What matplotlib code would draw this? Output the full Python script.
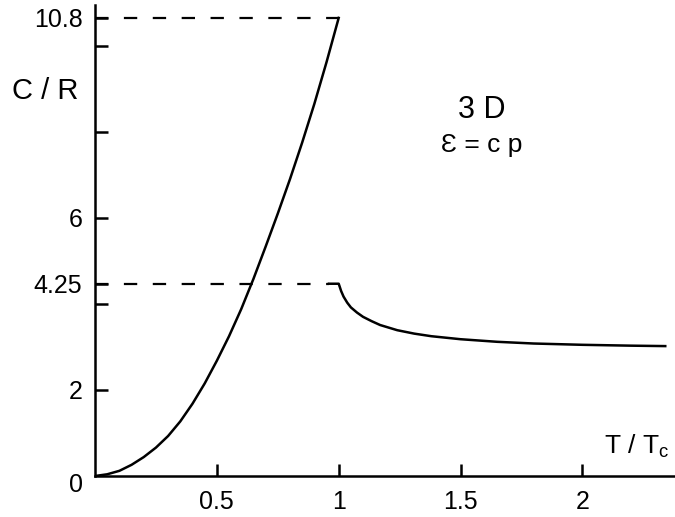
import numpy as np
import matplotlib
matplotlib.use("Agg")
import matplotlib.pyplot as plt

plt.rcParams['font.family'] = ['Liberation Sans', 'DejaVu Sans']
plt.rcParams['mathtext.fontset'] = 'custom'
plt.rcParams['mathtext.rm'] = 'Liberation Sans'

# C/R below Tc
t_below = [0, 0.05, 0.1, 0.15, 0.2, 0.25, 0.3, 0.35, 0.4, 0.45, 0.5,
           0.55, 0.6, 0.65, 0.7, 0.75, 0.8, 0.85, 0.9, 0.95, 1.0]
c_below = [0, 0.04, 0.12, 0.26, 0.44, 0.66, 0.93, 1.27, 1.68, 2.15, 2.68,
           3.25, 3.88, 4.58, 5.33, 6.10, 6.90, 7.75, 8.65, 9.62, 10.65]

# C/R above Tc
t_above = [0.96, 1.0, 1.003, 1.01, 1.02, 1.035, 1.05, 1.075, 1.10, 1.135, 1.17,
           1.24, 1.31, 1.38, 1.5, 1.65, 1.8, 2.0, 2.2, 2.34]
c_above = [4.47, 4.47, 4.42, 4.30, 4.17, 4.03, 3.92, 3.80, 3.70, 3.60, 3.51,
           3.39, 3.31, 3.25, 3.18, 3.12, 3.08, 3.05, 3.03, 3.02]

c_peak = 10.65   # drawn level of the "10.8" line
c_jump = 4.47    # drawn level of the "4.25" line

xticks = [0.5, 1, 1.5, 2]
xtick_labels = ['0.5', '1', '1.5', '2']
yticks_major = [2, c_jump, 6, c_peak]
ytick_labels = ['2', '4.25', '6', '10.8']
yticks_minor = [4, 8, 10]

fig = plt.figure(figsize=(6.75, 5.17), dpi=100)
ax = fig.add_axes([95/675, 41/517, 580/675, 471/517])

ax.plot(t_below, c_below, color='black', lw=1.8, solid_joinstyle='round')
ax.plot(t_above, c_above, color='black', lw=1.8, solid_joinstyle='round')

# dashed guide lines
ax.plot([0, 1], [c_peak, c_peak], color='black', lw=1.6, dashes=(6, 7))
ax.plot([0, 0.96], [c_jump, c_jump], color='black', lw=1.6, dashes=(6, 7))

ax.set_xlim(0, 2.38)
ax.set_ylim(0, 10.95)

for s in ['top', 'right']:
    ax.spines[s].set_visible(False)
for s in ['left', 'bottom']:
    ax.spines[s].set_linewidth(1.8)

ax.set_xticks(xticks)
ax.set_xticklabels(xtick_labels)
ax.set_yticks(yticks_major)
ax.set_yticklabels(ytick_labels)
ax.set_yticks(yticks_minor, minor=True)
ax.tick_params(axis='both', which='both', direction='in', length=9, width=1.8,
               labelsize=18)
ax.tick_params(axis='y', pad=9)
ax.tick_params(axis='x', pad=10)

ax.text(-0.05, -0.22, '0', ha='right', va='center', fontsize=18)

ax.text(-0.34, 8.95, 'C / R', ha='left', va='center', fontsize=21, clip_on=False)
ax.text(2.09, 0.53, r'T / T$_\mathregular{c}$', ha='left', va='baseline',
        fontsize=19, clip_on=False)
ax.text(1.585, 8.5, '3 D', ha='center', va='center', fontsize=22)
ax.text(1.585, 7.7, 'Ɛ = c p', ha='center', va='center', fontsize=19)

fig.savefig('out.png', dpi=100)
